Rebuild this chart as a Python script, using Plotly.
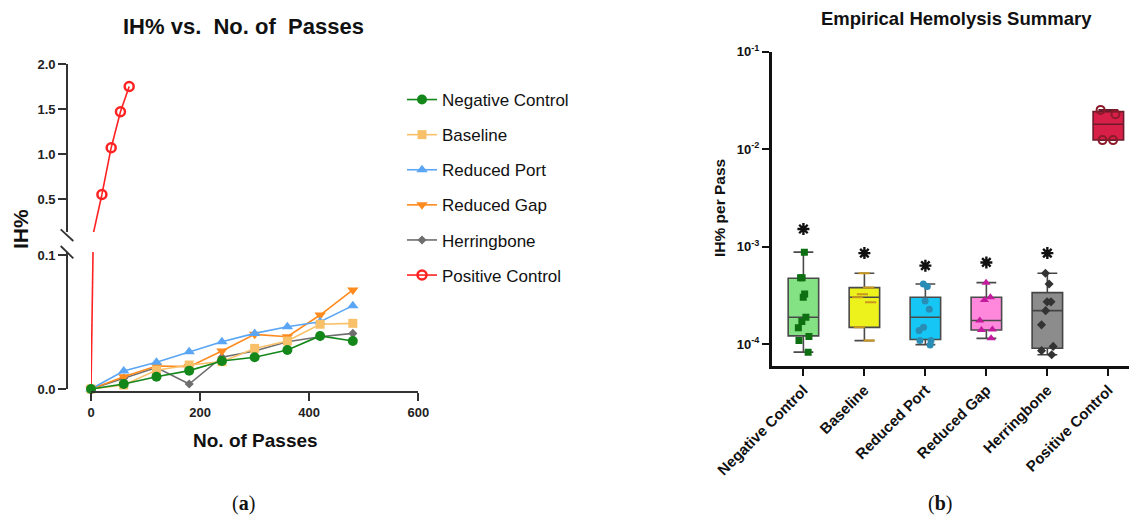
import plotly.graph_objects as go

# ---------------- Panel (a) data ----------------
passes = [0, 60, 120, 180, 240, 300, 360, 420, 480]
neg_ctrl = [0.0, 0.0037, 0.0092, 0.0137, 0.0209, 0.0237, 0.0291, 0.0396, 0.0358]
baseline = [0.0, 0.0030, 0.0140, 0.0179, 0.0204, 0.0303, 0.0358, 0.0483, 0.0490]
red_port = [0.0, 0.0134, 0.0199, 0.0278, 0.0353, 0.0415, 0.0465, 0.0502, 0.0622]
red_gap = [0.0, 0.0092, 0.0172, 0.0167, 0.0284, 0.0408, 0.0390, 0.0552, 0.0739]
herring = [0.0, 0.0080, 0.0160, 0.0037, 0.0237, 0.0284, 0.0353, 0.0390, 0.0415]
pc_passes = [0, 20, 37, 54, 70]
pos_ctrl = [0.0, 0.55, 1.07, 1.47, 1.75]

# ---------------- Panel (b) data ----------------
groups = ["Negative Control", "Baseline", "Reduced Port", "Reduced Gap",
          "Herringbone", "Positive Control"]
box_min = [8.3e-5, 1.09e-4, 9.9e-5, 1.15e-4, 7.8e-5, 0.0124]
box_q1 = [1.22e-4, 1.49e-4, 1.12e-4, 1.40e-4, 9.1e-5, 0.01245]
box_med = [1.89e-4, 3.03e-4, 1.89e-4, 1.75e-4, 2.21e-4, 0.0180]
box_q3 = [4.75e-4, 3.81e-4, 3.03e-4, 3.03e-4, 3.38e-4, 0.0243]
box_max = [8.8e-4, 5.35e-4, 4.15e-4, 4.28e-4, 5.35e-4, 0.0253]
pts_neg = [8.8e-4, 4.82e-4, 4.82e-4, 3.28e-4, 3.03e-4, 1.89e-4, 1.71e-4,
           1.48e-4, 1.20e-4, 1.09e-4, 8.3e-5]
pts_base = [5.35e-4, 3.81e-4, 3.25e-4, 3.03e-4, 2.7e-4, 1.49e-4, 1.09e-4]
pts_port = [4.15e-4, 3.9e-4, 2.78e-4, 2.29e-4, 1.49e-4, 1.38e-4, 1.09e-4,
            1.09e-4, 9.8e-5]
pts_gap = [4.28e-4, 3.03e-4, 2.85e-4, 1.75e-4, 1.42e-4, 1.40e-4, 1.15e-4]
pts_herr = [5.35e-4, 4.15e-4, 2.72e-4, 2.72e-4, 2.21e-4, 1.58e-4, 9.5e-5,
            8.6e-5, 7.8e-5]
pts_pos = [0.0253, 0.0229, 0.0124, 0.0124]
sig_groups = groups[:5]
sig_y = [1.52e-3, 8.6e-4, 6.4e-4, 6.9e-4, 8.6e-4]

# the page body has an 8 px margin: shrink the figure and shift coordinates
OFF = 8
W, H = 1137 - OFF, 521 - OFF
FONT = "Liberation Sans, Arial, sans-serif"


def px(x):
    return (x - OFF) / W


def py(y):
    return 1 - (y - OFF) / H


fig = go.Figure()

# ---------- Panel (a) traces (drawn back to front) ----------
line_series = [
    ("Herringbone", herring, "#6e6e6e", "diamond", 7, 5),
    ("Reduced Gap", red_gap, "#ff8a1e", "triangle-down", 10, 4),
    ("Reduced Port", red_port, "#5aa6f5", "triangle-up", 10, 3),
    ("Baseline", baseline, "#f9c06a", "square", 9, 2),
    ("Negative Control", neg_ctrl, "#13871a", "circle", 10, 1),
]

# positive control: connector from origin in both segments of the broken axis
fig.add_trace(go.Scatter(x=pc_passes[:2], y=pos_ctrl[:2], mode="lines",
                         line=dict(color="#ff2222", width=1.6),
                         xaxis="x", yaxis="y", showlegend=False, hoverinfo="skip"))
fig.add_trace(go.Scatter(x=pc_passes[:2], y=pos_ctrl[:2], mode="lines",
                         line=dict(color="#ff2222", width=1.6),
                         xaxis="x", yaxis="y2", showlegend=False, hoverinfo="skip"))
fig.add_trace(go.Scatter(x=pc_passes[1:], y=pos_ctrl[1:], mode="lines+markers",
                         name="Positive Control", legendrank=6, legendgroup="g6",
                         line=dict(color="#ff2222", width=1.6),
                         marker=dict(symbol="circle-open", size=9,
                                     color="#ff2222", line=dict(width=2.5)),
                         xaxis="x", yaxis="y2", cliponaxis=False))

for name, vals, col, sym, size, rank in line_series:
    fig.add_trace(go.Scatter(x=passes, y=vals, mode="lines+markers", name=name,
                             legendrank=rank, legendgroup="g%d" % rank,
                             line=dict(color=col, width=1.6),
                             marker=dict(symbol=sym, size=size, color=col),
                             xaxis="x", yaxis="y", cliponaxis=False))

# ---------- Panel (b) traces ----------
fills = ["#84e184", "#eef21c", "#16c7f5", "#ff88dc", "#8c8c8c", "#d81f47"]
edges = ["#4a4a4a", "#4a4a4a", "#4a4a4a", "#4a4a4a", "#444444", "#6b1b2b"]
for i, g in enumerate(groups):
    fig.add_trace(go.Box(x=[g], q1=[box_q1[i]], median=[box_med[i]],
                         q3=[box_q3[i]], lowerfence=[box_min[i]],
                         upperfence=[box_max[i]], width=0.5, whiskerwidth=0.65,
                         fillcolor=fills[i], line=dict(color=edges[i], width=1.6),
                         xaxis="x3", yaxis="y3", showlegend=False, hoverinfo="skip"))

pt_sets = [
    (pts_neg, dict(symbol="square", size=7, color="#0d6e12")),
    (pts_base, dict(symbol="line-ew", size=8, color="#c8961e",
                    line=dict(width=2, color="#c8961e"))),
    (pts_port, dict(symbol="circle", size=7, color="#2a8db5")),
    (pts_gap, dict(symbol="triangle-up", size=8, color="#c41a9e")),
    (pts_herr, dict(symbol="diamond", size=7, color="#333333")),
    (pts_pos, dict(symbol="circle-open", size=8, color="#8b1a2a",
                   line=dict(width=2, color="#8b1a2a"))),
]
for g, (vals, mk) in zip(groups, pt_sets):
    fig.add_trace(go.Box(x=[g] * len(vals), y=vals, boxpoints="all", jitter=0.6,
                         pointpos=0, width=0.5, marker=mk,
                         fillcolor="rgba(0,0,0,0)", line=dict(width=0, color="rgba(0,0,0,0)"),
                         xaxis="x3", yaxis="y3", showlegend=False, hoverinfo="skip"))

fig.add_trace(go.Scatter(x=sig_groups, y=sig_y, mode="markers",
                         marker=dict(symbol="asterisk-open", size=10, color="#111111",
                                     line=dict(width=2.4, color="#111111")),
                         xaxis="x3", yaxis="y3", showlegend=False, hoverinfo="skip"))

# ---------- layout ----------
tick_font_a = dict(family=FONT, size=13, color="#222222", weight="bold")
axis_col = "#333333"

fig.update_layout(
    template="none",
    width=W, height=H, margin=dict(l=0, r=0, t=0, b=0, autoexpand=False),
    paper_bgcolor="white", plot_bgcolor="white",
    boxmode="overlay",
    font=dict(family=FONT, color="#111111"),
    xaxis=dict(domain=[px(91), px(418.3)], range=[0, 600], anchor="free",
               position=py(392), showline=True, linecolor=axis_col, linewidth=1.8,
               ticks="outside", ticklen=8, tickwidth=1.8, tickcolor=axis_col,
               tickvals=[0, 200, 400, 600], tickfont=tick_font_a,
               showgrid=False, zeroline=False, automargin=False),
    yaxis=dict(domain=[py(389), py(252)], range=[0, (389 - 252) / 1340.0],
               anchor="free", position=px(67), showline=True, linecolor=axis_col,
               linewidth=1.8, ticks="outside", ticklen=8, tickwidth=1.8,
               tickcolor=axis_col, tickvals=[0, 0.1], ticktext=["0.0", "0.1"],
               tickfont=tick_font_a, showgrid=False, zeroline=False, automargin=False),
    yaxis2=dict(domain=[py(232), py(64)], range=[2.0 - (232 - 64) / 90.0, 2.0],
                anchor="free", position=px(67), showline=True, linecolor=axis_col,
                linewidth=1.8, ticks="outside", ticklen=8, tickwidth=1.8,
                tickcolor=axis_col, tickvals=[0.5, 1.0, 1.5, 2.0], tickformat=".1f",
                tickfont=tick_font_a, showgrid=False, zeroline=False, automargin=False),
    xaxis3=dict(domain=[px(771.7), 1.0], anchor="y3", type="category",
                categoryorder="array", categoryarray=groups, range=[-0.52, 5.47],
                showline=True, linecolor="#111111", linewidth=2.6,
                ticks="outside", ticklen=7, tickwidth=2.2, tickcolor="#111111",
                tickangle=-45,
                tickfont=dict(family=FONT, size=15, color="#111111", weight="bold"),
                showgrid=False, zeroline=False, automargin=False),
    yaxis3=dict(domain=[py(365.7), py(51.7)], anchor="x3", type="log",
                range=[-4.22, -1.0], showline=True, linecolor="#111111",
                linewidth=2.6, ticks="outside", ticklen=7, tickwidth=2.2,
                tickcolor="#111111", tickvals=[1e-4, 1e-3, 1e-2, 1e-1],
                ticktext=["10<sup>-4</sup>", "10<sup>-3</sup>", "10<sup>-2</sup>",
                          "10<sup>-1</sup>"],
                tickfont=dict(family=FONT, size=13, color="#111111", weight="bold"),
                showgrid=False, zeroline=False, automargin=False),
    legend=dict(x=px(402), y=py(82), xanchor="left", yanchor="top",
                font=dict(family=FONT, size=17, color="#111111"),
                tracegroupgap=10, bgcolor="rgba(0,0,0,0)"),
)

# broken-axis marks
for y0, y1 in [(229.3, 241.0), (246.0, 258.3)]:
    fig.add_shape(type="line", xref="paper", yref="paper",
                  x0=px(60.7), y0=py(y0), x1=px(73.3), y1=py(y1),
                  line=dict(color=axis_col, width=1.8))

anns = [
    dict(text="IH% vs.&nbsp; No. of&nbsp; Passes", x=px(243), y=py(27), size=22, angle=0),
    dict(text="IH%", x=px(20), y=py(229), size=21, angle=-90),
    dict(text="No. of Passes", x=px(255), y=py(440), size=19, angle=0),
    dict(text="Empirical Hemolysis Summary", x=px(956), y=py(18.5), size=18.5, angle=0),
    dict(text="IH% per Pass", x=px(719), y=py(208), size=15.5, angle=-90),
]
for a in anns:
    fig.add_annotation(text=a["text"], x=a["x"], y=a["y"], xref="paper", yref="paper",
                       xanchor="center", yanchor="middle", showarrow=False,
                       textangle=a["angle"],
                       font=dict(family=FONT, size=a["size"], color="#111111",
                                 weight="bold"))

for lab, xx in [("(<b>a</b>)", 243), ("(<b>b</b>)", 940)]:
    fig.add_annotation(text=lab, x=px(xx), y=py(503), xref="paper", yref="paper",
                       xanchor="center", yanchor="middle", showarrow=False,
                       font=dict(family="Liberation Serif, Times New Roman, serif",
                                 size=20, color="#111111"))

fig.write_html("out.html")
